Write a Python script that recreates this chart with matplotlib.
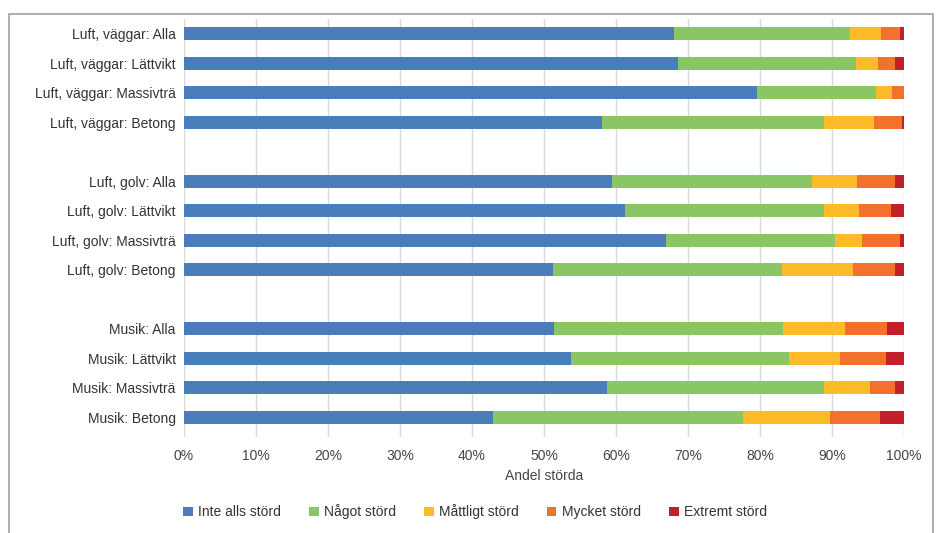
import matplotlib
matplotlib.use("Agg")
import matplotlib.pyplot as plt
from matplotlib.patches import Rectangle
import numpy as np

plt.rcParams['font.family'] = ['Liberation Sans', 'DejaVu Sans']

labels = ["Luft, väggar: Alla", "Luft, väggar: Lättvikt", "Luft, väggar: Massivträ",
          "Luft, väggar: Betong", "",
          "Luft, golv: Alla", "Luft, golv: Lättvikt", "Luft, golv: Massivträ",
          "Luft, golv: Betong", "",
          "Musik: Alla", "Musik: Lättvikt", "Musik: Massivträ", "Musik: Betong"]

series = ["Inte alls störd", "Något störd", "Måttligt störd", "Mycket störd", "Extremt störd"]
colors = ["#4A7EBB", "#8AC663", "#FDBB2A", "#F1712D", "#C4202A"]

# andel (%) per svarsalternativ, tomma rader skiljer grupperna åt
inte_alls = [68.0, 68.6, 79.6, 58.1, 0, 59.4, 61.3, 66.9, 51.3, 0, 51.4, 53.7, 58.7, 42.9]
nagot     = [24.5, 24.8, 16.5, 30.8, 0, 27.8, 27.6, 23.5, 31.7, 0, 31.8, 30.3, 30.2, 34.8]
mattligt  = [4.3, 3.0, 2.2, 6.9, 0, 6.3, 4.8, 3.7, 9.9, 0, 8.6, 7.1, 6.4, 12.0]
mycket    = [2.6, 2.4, 1.7, 3.95, 0, 5.2, 4.5, 5.3, 5.8, 0, 5.8, 6.4, 3.5, 7.0]
extremt   = [0.6, 1.2, 0.0, 0.25, 0, 1.3, 1.8, 0.6, 1.3, 0, 2.4, 2.5, 1.2, 3.3]

data = [inte_alls, nagot, mattligt, mycket, extremt]

fig = plt.figure(figsize=(9.38, 5.33), dpi=100)
ax = fig.add_axes([184/938, 1 - 437/533, 720/938, 418/533])

y = np.arange(len(labels))
left = np.zeros(len(labels))
for name, vals, c in zip(series, data, colors):
    vals = np.array(vals)
    ax.barh(y, vals, left=left, height=0.43, color=c, label=name, zorder=3)
    left += vals

ax.set_ylim(len(labels) - 0.5 + 5/29.5, -0.5)
ax.set_xlim(0, 100)
ax.set_yticks(y)
ax.set_yticklabels(labels, fontsize=10, color="#333333")
ax.set_xticks(np.arange(0, 101, 10))
ax.set_xticklabels([f"{v}%" for v in range(0, 101, 10)], fontsize=10, color="#444444")
ax.tick_params(axis="y", length=0, pad=6)
ax.tick_params(axis="x", length=0, pad=9)
ax.xaxis.grid(True, color="#d9d9d9", lw=1, zorder=0)
for s in ax.spines.values():
    s.set_visible(False)
ax.set_xlabel("Andel störda", fontsize=10, color="#444444", labelpad=4)

fig.legend(loc="center", bbox_to_anchor=(475/938, 1 - 512/533), ncol=5, frameon=False,
           fontsize=10, handlelength=0.7, handleheight=0.7, handletextpad=0.4,
           columnspacing=2.0, labelcolor="#333333")

fig.add_artist(Rectangle((9/938, -0.05), 924/938, 519/533 + 0.05, transform=fig.transFigure,
                         fill=False, edgecolor="#a0a0a0", lw=1.2))

fig.savefig("out.png", dpi=100)
